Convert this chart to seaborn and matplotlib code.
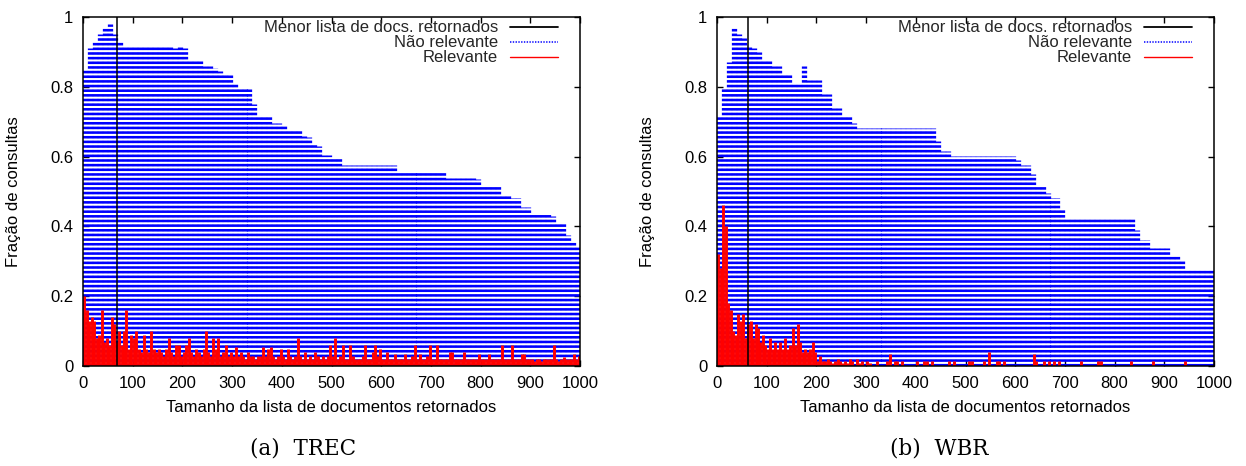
import numpy as np
import matplotlib
matplotlib.use("Agg")
import matplotlib.pyplot as plt
import seaborn as sns
from matplotlib.lines import Line2D

# ---------------- data ----------------
BLUE_BIN = 10   # ranks per blue value
RED_BIN = 5     # ranks per red value

trec_nao_relevante = [
    0.85, 0.91, 0.93, 0.95, 0.97, 0.98, 0.95, 0.93, 0.92, 0.92,
    0.92, 0.92, 0.915, 0.92, 0.92, 0.915, 0.92, 0.915, 0.91, 0.915,
    0.91, 0.88, 0.88, 0.875, 0.86, 0.86, 0.855, 0.845, 0.84, 0.835,
    0.81, 0.80, 0.80, 0.795, 0.75, 0.72, 0.72, 0.715, 0.695, 0.695,
    0.69, 0.68, 0.68, 0.675, 0.66, 0.655, 0.635, 0.63, 0.605, 0.605,
    0.60, 0.60, 0.575, 0.575, 0.575, 0.575, 0.575, 0.575, 0.575, 0.575,
    0.575, 0.575, 0.575, 0.56, 0.56, 0.56, 0.56, 0.56, 0.56, 0.555,
    0.555, 0.555, 0.555, 0.54, 0.54, 0.54, 0.54, 0.54, 0.54, 0.535,
    0.515, 0.515, 0.515, 0.515, 0.49, 0.49, 0.48, 0.48, 0.455, 0.455,
    0.435, 0.435, 0.435, 0.435, 0.43, 0.41, 0.41, 0.375, 0.355, 0.345,
]

trec_relevante = [
    0.20, 0.16, 0.13, 0.14, 0.13, 0.08, 0.09, 0.16, 0.07, 0.08, 0.06, 0.14, 0.12, 0.07, 0.10, 0.06, 0.10, 0.16, 0.05, 0.09,
    0.08, 0.10, 0.05, 0.04, 0.09, 0.05, 0.04, 0.10, 0.05, 0.04, 0.05, 0.04, 0.03, 0.05, 0.08, 0.04, 0.03, 0.06, 0.06, 0.03,
    0.04, 0.06, 0.08, 0.04, 0.03, 0.05, 0.04, 0.03, 0.05, 0.10, 0.04, 0.03, 0.08, 0.05, 0.08, 0.03, 0.04, 0.06, 0.03, 0.04,
    0.03, 0.055, 0.03, 0.04, 0.03, 0.02, 0.04, 0.03, 0.03, 0.02, 0.03, 0.03, 0.055, 0.03, 0.05, 0.055, 0.03, 0.02, 0.03, 0.05,
    0.03, 0.02, 0.05, 0.03, 0.02, 0.03, 0.08, 0.03, 0.02, 0.04, 0.02, 0.03, 0.02, 0.04, 0.03, 0.02, 0.03, 0.02, 0.03, 0.06,
    0.03, 0.08, 0.02, 0.03, 0.06, 0.02, 0.02, 0.06, 0.03, 0.02, 0.02, 0.02, 0.03, 0.06, 0.02, 0.02, 0.04, 0.06, 0.03, 0.05,
    0.02, 0.02, 0.04, 0.02, 0.02, 0.035, 0.02, 0.02, 0.02, 0.035, 0.02, 0.02, 0.03, 0.06, 0.02, 0.035, 0.02, 0.02, 0.03, 0.06,
    0.02, 0.02, 0.06, 0.02, 0.02, 0.02, 0.02, 0.04, 0.04, 0.02, 0.02, 0.02, 0.02, 0.04, 0.02, 0.02, 0.02, 0.02, 0.02, 0.035,
    0.02, 0.02, 0.02, 0.035, 0.02, 0.02, 0.02, 0.02, 0.06, 0.02, 0.02, 0.02, 0.06, 0.02, 0.02, 0.02, 0.035, 0.035, 0.02, 0.02,
    0.02, 0.015, 0.02, 0.02, 0.015, 0.02, 0.02, 0.02, 0.02, 0.06, 0.02, 0.015, 0.02, 0.025, 0.02, 0.02, 0.02, 0.035, 0.02, 0.03,
]

wbr_nao_relevante = [
    0.72, 0.80, 0.87, 0.97, 0.95, 0.94, 0.92, 0.91, 0.90, 0.88,
    0.88, 0.86, 0.86, 0.84, 0.84, 0.81, 0.81, 0.86, 0.82, 0.82,
    0.82, 0.78, 0.78, 0.74, 0.74, 0.72, 0.72, 0.695, 0.683, 0.683,
    0.683, 0.683, 0.683, 0.683, 0.683, 0.683, 0.683, 0.683, 0.683, 0.683,
    0.683, 0.683, 0.683, 0.683, 0.645, 0.615, 0.615, 0.602, 0.602, 0.602,
    0.602, 0.602, 0.602, 0.602, 0.602, 0.602, 0.602, 0.602, 0.602, 0.602,
    0.59, 0.576, 0.576, 0.55, 0.519, 0.519, 0.495, 0.481, 0.481, 0.45,
    0.421, 0.421, 0.421, 0.421, 0.421, 0.421, 0.421, 0.421, 0.421, 0.421,
    0.421, 0.421, 0.421, 0.421, 0.39, 0.362, 0.362, 0.338, 0.338, 0.338,
    0.338, 0.316, 0.316, 0.30, 0.279, 0.279, 0.279, 0.279, 0.279, 0.279,
]

wbr_relevante = [
    0.32, 0.28, 0.46, 0.40, 0.18, 0.16, 0.10, 0.09, 0.15, 0.13, 0.15, 0.08, 0.12, 0.13, 0.08, 0.12, 0.11, 0.07, 0.09, 0.06,
    0.05, 0.08, 0.05, 0.07, 0.05, 0.07, 0.05, 0.08, 0.05, 0.06, 0.11, 0.06, 0.12, 0.07, 0.04, 0.05, 0.04, 0.05, 0.07, 0.04,
    0.015, 0.03, 0.015, 0.015, 0.02, 0.015, 0.01, 0.015, 0.02, 0.015, 0.01, 0.015, 0.01, 0.02, 0.015, 0.0, 0.02, 0.01, 0.015, 0.0,
    0.015, 0.01, 0.0, 0.0, 0.015, 0.0, 0.0, 0.0, 0.015, 0.035, 0.0, 0.015, 0.015, 0.0, 0.015, 0.0, 0.0, 0.0, 0.0, 0.0,
    0.015, 0.0, 0.0, 0.015, 0.015, 0.0, 0.015, 0.0, 0.0, 0.0, 0.0, 0.0, 0.0, 0.015, 0.0, 0.015, 0.0, 0.0, 0.0, 0.0,
    0.0, 0.015, 0.015, 0.0, 0.0, 0.0, 0.0, 0.015, 0.0, 0.04, 0.0, 0.0, 0.015, 0.015, 0.0, 0.015, 0.0, 0.0, 0.0, 0.0,
    0.0, 0.0, 0.0, 0.0, 0.0, 0.0, 0.0, 0.035, 0.015, 0.0, 0.0, 0.015, 0.0, 0.015, 0.0, 0.015, 0.0, 0.015, 0.0, 0.0,
    0.0, 0.0, 0.0, 0.0, 0.0, 0.0, 0.015, 0.0, 0.0, 0.0, 0.0, 0.0, 0.0, 0.015, 0.015, 0.0, 0.0, 0.0, 0.0, 0.0,
    0.0, 0.0, 0.0, 0.0, 0.0, 0.0, 0.015, 0.0, 0.0, 0.0, 0.0, 0.0, 0.0, 0.0, 0.0, 0.015, 0.0, 0.0, 0.0, 0.0,
    0.0, 0.0, 0.0, 0.0, 0.0, 0.0, 0.0, 0.0, 0.015, 0.0, 0.0, 0.0, 0.0, 0.0, 0.0, 0.0, 0.0, 0.0, 0.0, 0.0,
]

trec_menor_lista = 68
wbr_menor_lista = 63

x_ticks = [0, 100, 200, 300, 400, 500, 600, 700, 800, 900, 1000]
y_ticks = [0, 0.2, 0.4, 0.6, 0.8, 1.0]
y_tick_labels = ["0", "0.2", "0.4", "0.6", "0.8", "1"]
legend_labels = ["Menor lista de docs. retornados", "Não relevante", "Relevante"]
x_label = "Tamanho da lista de documentos retornados"
y_label = "Fração de consultas"
captions = ["(a)  TREC", "(b)  WBR"]

# ---------------- style ----------------
sns.set_theme(style="ticks")
plt.rcParams["font.family"] = ["Liberation Sans", "DejaVu Sans"]
plt.rcParams["lines.scale_dashes"] = False

BLUE = "#0000ff"
RED = "#ff0000"
W, H = 1246, 466
fig = plt.figure(figsize=(W / 100, H / 100), dpi=100)
fig.patch.set_facecolor("white")

ax_l = fig.add_axes([83 / W, 100 / H, 497 / W, 349 / H])
ax_r = fig.add_axes([717 / W, 100 / H, 497 / W, 349 / H])

panels = [
    (ax_l, trec_nao_relevante, trec_relevante, trec_menor_lista, captions[0], 303),
    (ax_r, wbr_nao_relevante, wbr_relevante, wbr_menor_lista, captions[1], 939),
]

dotted = (0, (1.85, 1.5))

for ax, blue, red, menor, cap, cap_x in panels:
    ax.set_facecolor("white")
    xb = np.arange(len(blue)) * BLUE_BIN + BLUE_BIN / 2
    lc = ax.vlines(xb, 0, blue, colors=BLUE, linewidths=3.8, linestyles=[dotted], zorder=2)
    lc.set_capstyle("butt")
    xr = np.arange(len(red)) * RED_BIN + RED_BIN / 2
    rc = ax.vlines(xr, 0, red, colors=RED, linewidths=2.1, zorder=3)
    rc.set_capstyle("butt")
    ax.axvline(menor, color="black", lw=1.1, zorder=4)

    ax.set_xlim(0, 1000)
    ax.set_ylim(0, 1)
    ax.set_xticks(x_ticks)
    ax.set_yticks(y_ticks)
    ax.set_yticklabels(y_tick_labels)
    ax.tick_params(direction="in", length=4, width=1, top=True, right=True,
                   labelsize=12, colors="black", pad=7)
    for s in ax.spines.values():
        s.set_color("black")
        s.set_linewidth(1.1)
        s.set_zorder(5)
    ax.grid(False)

    ax.set_xlabel(x_label, fontsize=12, color="black")
    ax.set_ylabel(y_label, fontsize=12, color="black")
    ax.xaxis.set_label_coords(0.5, -0.098)
    ax.yaxis.set_label_coords(-0.124, 0.5)

    handles = [
        Line2D([], [], color="black", lw=1.3),
        Line2D([], [], color=BLUE, lw=1.1, linestyle=(0, (1.0, 1.0))),
        Line2D([], [], color=RED, lw=1.0),
    ]
    ax.legend(handles, legend_labels, loc="upper right", bbox_to_anchor=(0.956, 0.99),
              frameon=False, markerfirst=False, fontsize=12, handlelength=2.9,
              handletextpad=0.7, labelspacing=0.0, borderpad=0, borderaxespad=0)

    fig.text(cap_x / W, (H - 449) / H, cap, ha="center", va="center",
             family=["DejaVu Serif"], fontsize=15.5, color="black")

fig.savefig("out.png", dpi=100, facecolor="white")
